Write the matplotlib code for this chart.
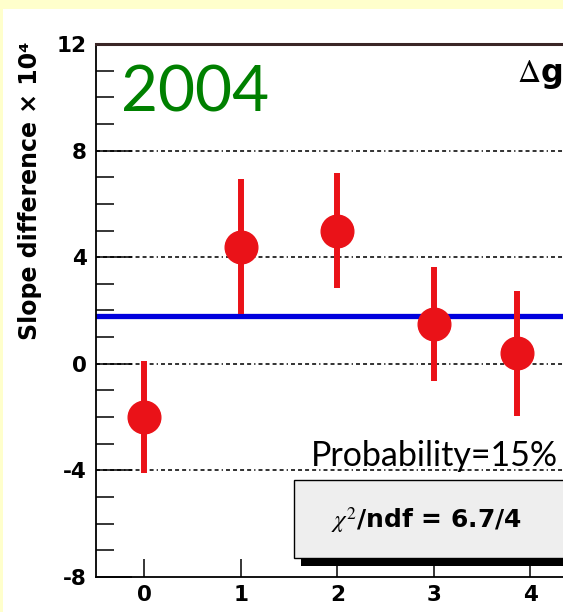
import matplotlib
matplotlib.use("Agg")
import matplotlib.pyplot as plt
from matplotlib.patches import Rectangle
from matplotlib.ticker import MultipleLocator

# Slope difference per run (x 10^4) with uncertainties, and the constant fit
run_pos = [0, 1, 2, 3, 3.86]
slope_diff = [-2.0, 4.4, 5.0, 1.5, 0.4]
slope_err = [2.1, 2.55, 2.15, 2.15, 2.35]
fit_const = 1.78
y_ticks = [-8, -4, 0, 4, 8, 12]
x_ticks = [0, 1, 2, 3, 4]
year_label = "2004"
prob_label = "Probability=15%"
chi2_label = r"$\chi^{2}$/ndf = 6.7/4"
ylabel = "Slope difference \u00d7 10\u2074"

plt.rcParams["mathtext.fontset"] = "stix"
plt.rcParams["axes.unicode_minus"] = False

W, H = 563, 612
DPI = 100
fig = plt.figure(figsize=(W / DPI, H / DPI), dpi=DPI, facecolor="#ffffcc")


def fx(px):
    return px / W


def fy(py):
    return 1 - py / H


# white slide panel
fig.patches.append(Rectangle((fx(3), 0), 1, fy(9), transform=fig.transFigure,
                             facecolor="white", edgecolor="none", zorder=-10))

ax_left, ax_right, ax_top, ax_bot = 96, 578.5, 44, 577
ax = fig.add_axes([fx(ax_left), fy(ax_bot), (ax_right - ax_left) / W,
                   (ax_bot - ax_top) / H])
ax.set_zorder(1)
ax.set_facecolor("white")
ax.set_xlim(-0.5, 4.5)
ax.set_ylim(-8, 12)

for side in ["left", "bottom"]:
    ax.spines[side].set_linewidth(1.3)
    ax.spines[side].set_color("black")
ax.spines["top"].set_linewidth(2.2)
ax.spines["top"].set_color("#3a2626")
ax.spines["right"].set_visible(False)

ax.set_yticks(y_ticks)
ax.yaxis.set_minor_locator(MultipleLocator(1))
ax.set_xticks(x_ticks)
ax.tick_params(axis="y", which="major", direction="in", length=26, width=1.1,
               pad=6.5, labelsize=15.5)
ax.tick_params(axis="y", which="minor", direction="in", length=13, width=1.1)
ax.tick_params(axis="x", which="major", direction="in", length=13, width=1.1,
               pad=5.5, labelsize=15.5)
for lab in ax.get_xticklabels() + ax.get_yticklabels():
    lab.set_fontweight("bold")
    lab.set_family("DejaVu Sans")

# dash-dot grid on the major y values
for yv in [-4, 0, 4, 8]:
    ax.axhline(yv, color="#222222", lw=1.3, zorder=1,
               dashes=(2.2, 1.7, 2.2, 1.7, 2.2, 1.7, 2.2, 1.7, 0.7, 1.7))

ax.axhline(fit_const, color="#0000dd", lw=3.8, zorder=2)
ax.errorbar(run_pos, slope_diff, yerr=slope_err, fmt="o", color="#ea1218",
            ms=23.5, elinewidth=4.3, capsize=0, zorder=3)

# axis title
fig.text(fx(30), fy(42), ylabel, rotation=90, ha="center", va="top",
         fontsize=17, fontweight="bold", family="DejaVu Sans", zorder=8)

fig.text(fx(121), fy(112), year_label, color="#008000", fontsize=46,
         family="Lato", va="baseline", ha="left", zorder=8)
fig.text(fx(517), fy(82), r"$\Delta$g", fontsize=23, fontweight="bold",
         family="DejaVu Sans", va="baseline", ha="left", zorder=8)
fig.text(fx(311), fy(466), prob_label, fontsize=24.5, family="Lato",
         va="baseline", ha="left", zorder=8)

# fit statistics box with drop shadow
fig.patches.append(Rectangle((fx(301), fy(566)), fx(400), fy(488) - fy(566),
                             transform=fig.transFigure, facecolor="black",
                             edgecolor="none", zorder=5))
fig.patches.append(Rectangle((fx(294), fy(558)), fx(400), fy(480) - fy(558),
                             transform=fig.transFigure, facecolor="#eeeeee",
                             edgecolor="black", lw=1.0, zorder=6))
fig.text(fx(427), fy(520), chi2_label, fontsize=18, fontweight="bold",
         family="DejaVu Sans", ha="center", va="center", zorder=7)

fig.savefig("out.png", dpi=DPI, facecolor=fig.get_facecolor())
